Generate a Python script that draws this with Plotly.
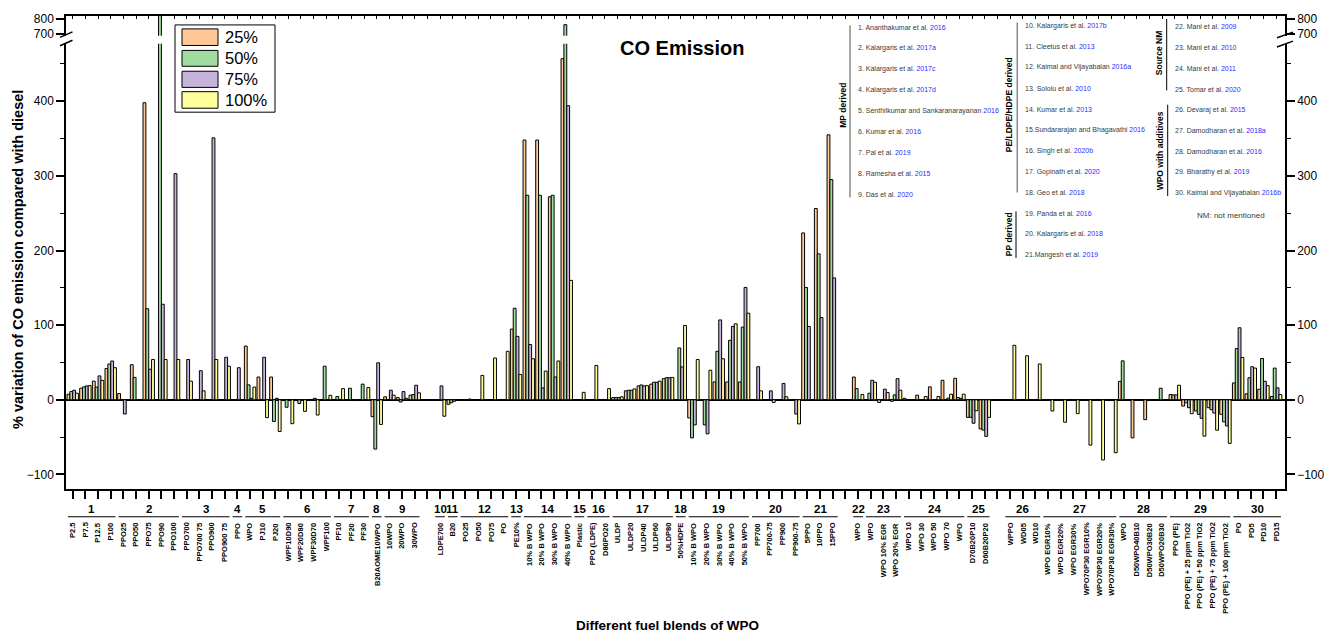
import plotly.graph_objects as go

# ---------------- data ----------------
categories = [
    "P2.5", "P7.5", "P12.5", "P100",
    "PPO25", "PPO50", "PPO75", "PPO90", "PPO100",
    "PPO700", "PPO700 75", "PPO900", "PPO900 75",
    "PPO",
    "WPO", "PJ10", "PJ20",
    "WPF10D90", "WPF20D80", "WPF30D70", "WPF100",
    "PF10", "PF20", "PF30",
    "B20AOME10WPO",
    "10WPO", "20WPO", "30WPO",
    "",
    "LDPE700",
    "B20",
    "PO25", "PO50", "PO75", "PO",
    "PE10%",
    "10% B WPO", "20% B WPO", "30% B WPO", "40% B WPO",
    "Plastic",
    "PPO (LDPE)", "D80PO20",
    "ULDP", "ULDP20", "ULDP40", "ULDP60", "ULDP80",
    "50%HDPE",
    "10% B WPO", "20% B WPO", "30% B WPO", "40% B WPO", "50% B WPO",
    "PP700", "PP700-75", "PP900", "PP900-75",
    "5PPO", "10PPO", "15PPO",
    "",
    "WPO",
    "WPO", "WPO 10% EGR", "WPO 20% EGR",
    "WPO 10", "WPO 30", "WPO 50", "WPO 70", "WPO",
    "D70B20P10", "D60B20P20",
    "",
    "WPPO", "WD05", "WD10",
    "WPO EGR10%", "WPO EGR20%", "WPO EGR30%", "WPO70P30 EGR10%", "WPO70P30 EGR20%", "WPO70P30 EGR30%",
    "WPO", "D50WPO40B10", "D50WPO30B20", "D50WPO20B30",
    "PPO (PE)", "PPO (PE) + 25 ppm TiO2", "PPO (PE) + 50 ppm TiO2", "PPO (PE) + 75 ppm TiO2", "PPO (PE) + 100 ppm TiO2",
    "PO", "PD5", "PD10", "PD15",
]

groups = (
    [1] * 4 + [2] * 5 + [3] * 4 + [4] + [5] * 3 + [6] * 4 + [7] * 3 + [8] + [9] * 3 + [None]
    + [10] + [11] + [12] * 4 + [13] + [14] * 4 + [15] + [16] * 2 + [17] * 5 + [18] + [19] * 5
    + [20] * 4 + [21] * 3 + [None] + [22] + [23] * 3 + [24] * 5 + [25] * 2 + [None]
    + [26] * 3 + [27] * 6 + [28] * 4 + [29] * 5 + [30] * 4
)

N = None
co_25 = [7.5, 15.5, 25, 42, 8.4, 47, 398, N, N, N, N, N, N, N, 72, 30.5, 30.5, N, N, N, N, N, N, N, -22.6,
         4, 3, 6.2, N, N, -6, N, N, N, N, 94.7, 348, 348, 272, 457, N, N, N, 3, 12, 18.6, 21, 28.3, N,
         -24.3, N, 23.9, 23.9, 23.9, N, N, N, N, 223.6, 256.3, 355, N, 30.5, N, -3.5, -2, 2, 6.2, 17.3, 26.1,
         28.8, -23.5, -39, N, N, N, N, N, N, N, N, N, N, 24.7, -51, -26.6, N, 7, -8.4, -15, -10.6, -19.5,
         22.6, 8, 14.2, 4.4]
co_50 = [11, 17.3, 17, 48, N, 30, 122, 830, N, N, N, N, N, N, 20, N, -29, -10, -5, N, 45, 4.4, 15.5, 21, -66,
         N, -3, 7, N, N, -4, N, N, N, N, 122.6, 274, 274, 274, 762, N, N, N, 3, 12.8, 19.9, 23.5, 29.6, 69.5,
         -51, -33.6, 65, 79.7, 97.4, N, N, N, N, 150.5, 195.6, 295, N, 15, 8.8, N, 6.6, N, N, N, N,
         3, -23.5, -40.6, N, N, N, N, N, N, N, N, N, N, 52.2, N, -1, 15.5, 6.6, -4, -19.5, -13.3, -29.6,
         68.6, 29.6, 55.4, 42.5]
co_75 = [12.8, 18.6, 32, 52, -19, N, 41, 128, 303, 54, 39, 351, 57, 43, 2, 57, 2, N, N, 2, N, N, N, N, 49.6,
         12.8, 11, 19.5, N, 18.6, -2, N, N, N, N, 85, 74, 16, 30.5, 394, N, N, N, 3, 12.8, 18.6, 23.5, 29.6, 44,
         -33.6, -45.6, 107, 98.3, 150.5, 44.3, 12, 22, -19, 98.3, 110.2, 163.3, N, N, 26.1, 14.2, 28.3, N, N, N, 2.2,
         2, -31.4, -49, N, N, N, N, N, N, N, N, N, N, N, N, N, N, 6.6, -10.6, -24.8, -17.7, -35,
         96.5, 44.3, 24.8, 16]
co_100 = [8.8, 19, 26, 43, N, N, 54, 54, 54, 25, 12, 54, 45, N, 17, -24, -42.5, -32, -15.5, -20.4, 6, 15, -1, 16.4, -33,
          6.2, 2, 9.3, N, -22, N, 1, 32.7, 56, 65, 34, 55, 38.5, 52, 160, 10, 46, 15, 4, 14.6, 19, 25, 30, 99.6,
          54, 39.6, 55, 101.8, 116, 12, -3.5, 4, -32.3, N, N, N, N, 7, 23.5, 9.7, 12.8, N, 4.4, 4.4, 7.5,
          7.5, -14.6, -23.5, N, 73, 59, 48, -15, -30, -18.6, -60.7, -80.6, -70.9, N, N, N, N, 19.5, -18.6, -48.7, -40.7, -58.4,
          56.7, 42.5, 19, 7]

series_names = ["25%", "50%", "75%", "100%"]
series_values = [co_25, co_50, co_75, co_100]
series_colors = ["#FFC896", "#A0DCA0", "#C6B4DC", "#FFFF9C"]

lower_ticks = [-100, 0, 100, 200, 300, 400]
lower_minor = [-50, 50, 150, 250, 350, 450]
upper_ticks = [700, 800]

refs_mp = ["1. Ananthakumar et al.", "2. Kalargaris et al.", "3. Kalargaris et al.", "4. Kalargaris et al.",
           "5. Senthilkumar and Sankaranarayanan", "6. Kumar et al.", "7. Pal et al.", "8. Ramesha et al.",
           "9. Das et al."]
years_mp = ["2016", "2017a", "2017c", "2017d", "2016", "2016", "2019", "2015", "2020"]
refs_pe = ["10. Kalargaris et al.", "11. Cleetus et al.", "12. Kaimal and Vijayabalan", "13. Soloiu et al.",
           "14. Kumar et al.", "15.Sundararajan and Bhagavathi", "16. Singh et al.", "17. Gopinath et al.",
           "18. Geo et al.", "19. Panda et al.", "20. Kalargaris et al.", "21.Mangesh et al."]
years_pe = ["2017b", "2013", "2016a", "2010", "2013", "2016", "2020b", "2020", "2018", "2016", "2018", "2019"]
refs_nm = ["22. Mani et al.", "23. Mani et al.", "24. Mani et al.", "25. Tomar et al.", "26. Devaraj et al.",
           "27. Damodharan et al.", "28. Damodharan et al.", "29. Bharathy et al.", "30. Kaimal and Vijayabalan"]
years_nm = ["2009", "2010", "2011", "2020", "2015", "2018a", "2016", "2019", "2016b"]

# ---------------- layout geometry (pixels) ----------------
W, H = 1337, 635
PL, PR, PT, PB = 66, 1285, 12, 489
PW, PH = PR - PL, PB - PT
FONT = "Liberation Sans, Arial, Helvetica, sans-serif"


def px(xp):
    return (xp - PL) / PW


def py(yp):
    return (PB - yp) / PH


lower_dom = [0, py(40)]
upper_dom = [py(32), 1]

xs = list(range(len(categories)))

fig = go.Figure()
for name, vals, col in zip(series_names, series_values, series_colors):
    for xa, ya in (("x", "y"), ("x2", "y2")):
        fig.add_trace(go.Bar(
            x=xs, y=vals, name=name, xaxis=xa, yaxis=ya, showlegend=False,
            marker=dict(color=col, line=dict(color="black", width=1)),
        ))
# empty traces so that the right-hand (mirrored) axes get drawn
fig.add_trace(go.Scatter(x=[], y=[], xaxis="x", yaxis="y3", showlegend=False, hoverinfo="skip"))
fig.add_trace(go.Scatter(x=[], y=[], xaxis="x2", yaxis="y4", showlegend=False, hoverinfo="skip"))

xrange_ = [-0.53, 95.7]
axis_line = dict(showline=True, linecolor="black", linewidth=1.5, showgrid=False)
minor_ax = dict(tickvals=lower_minor, ticks="outside", ticklen=4, tickwidth=1, tickcolor="black")
fig.update_layout(
    width=W, height=H,
    margin=dict(l=PL, r=W - PR, t=PT, b=H - PB),
    barmode="group", bargap=0.1, bargroupgap=0,
    plot_bgcolor="white", paper_bgcolor="white",
    font=dict(family=FONT, color="black", size=12),
    xaxis=dict(domain=[0, 1], anchor="y", range=xrange_, tickvals=xs, showticklabels=False,
               ticks="outside", ticklen=8, tickwidth=1.5, tickcolor="black", zeroline=False, **axis_line),
    xaxis2=dict(domain=[0, 1], anchor="y2", side="top", range=xrange_, tickvals=xs, showticklabels=False,
                ticks="inside", ticklen=3, tickwidth=1, tickcolor="black", zeroline=False, **axis_line),
    yaxis=dict(domain=lower_dom, anchor="x", range=[-119.5, 477], tickvals=lower_ticks,
               ticks="outside", ticklen=8, tickwidth=1.5, tickcolor="black", minor=minor_ax,
               zeroline=True, zerolinecolor="black", zerolinewidth=2, tickfont=dict(size=12), **axis_line),
    yaxis3=dict(overlaying="y", anchor="x", side="right", range=[-119.5, 477], tickvals=lower_ticks,
                ticks="outside", ticklen=8, tickwidth=1.5, tickcolor="black", minor=minor_ax,
                zeroline=False, tickfont=dict(size=12), **axis_line),
    yaxis2=dict(domain=upper_dom, anchor="x2", range=[687, 820], tickvals=upper_ticks,
                ticks="outside", ticklen=8, tickwidth=1.5, tickcolor="black", zeroline=False,
                tickfont=dict(size=12), **axis_line),
    yaxis4=dict(overlaying="y2", anchor="x2", side="right", range=[687, 820], tickvals=upper_ticks,
                ticks="outside", ticklen=8, tickwidth=1.5, tickcolor="black", zeroline=False,
                tickfont=dict(size=12), **axis_line),
)

annotations = []
shapes = []

# category labels
for i, lab in enumerate(categories):
    if lab:
        annotations.append(dict(x=i, y=py(521), xref="x", yref="paper", text="<b>%s</b>" % lab,
                                textangle=-90, xanchor="center", yanchor="top", showarrow=False,
                                font=dict(size=7.5, family=FONT)))

# group numbers + underlines
seen = []
for g in groups:
    if g is not None and g not in seen:
        seen.append(g)
for g in seen:
    idx = [i for i, gg in enumerate(groups) if gg == g]
    a, b = idx[0], idx[-1]
    annotations.append(dict(x=(a + b) / 2, y=py(509), xref="x", yref="paper", text="<b>%d</b>" % g,
                            xanchor="center", yanchor="middle", showarrow=False, font=dict(size=11.5)))
    shapes.append(dict(type="line", xref="x", yref="paper", x0=a - 0.38, x1=b + 0.38,
                       y0=py(517), y1=py(517), line=dict(color="black", width=1)))

# titles
annotations.append(dict(x=px(682), y=py(44), xref="paper", yref="paper", text="<b>CO Emission</b>",
                        showarrow=False, font=dict(size=20), xanchor="center", yanchor="middle"))
annotations.append(dict(x=px(667), y=py(627), xref="paper", yref="paper", text="<b>Different fuel blends of WPO</b>",
                        showarrow=False, font=dict(size=13.5), xanchor="center", yanchor="middle"))
annotations.append(dict(x=px(18), y=py(258), xref="paper", yref="paper",
                        text="<b>% variation of CO emission compared with diesel</b>", textangle=-90,
                        showarrow=False, font=dict(size=14.5), xanchor="center", yanchor="middle"))

# legend (drawn)
shapes.append(dict(type="rect", xref="paper", yref="paper", x0=px(175), x1=px(275), y0=py(21), y1=py(109),
                   line=dict(color="black", width=1), fillcolor="white", layer="above"))
leg_rows = [(25, 41.7), (46.7, 62.7), (67.7, 84), (88.3, 105)]
for (y0, y1), name, col in zip(leg_rows, series_names, series_colors):
    shapes.append(dict(type="rect", xref="paper", yref="paper", x0=px(182), x1=px(218), y0=py(y1), y1=py(y0),
                       line=dict(color="black", width=1), fillcolor=col, layer="above"))
    annotations.append(dict(x=px(223), y=py((y0 + y1) / 2), xref="paper", yref="paper", text=name,
                            showarrow=False, font=dict(size=16.5), xanchor="left", yanchor="middle"))

# reference list
BLUE = "#2B2BFF"
GREY = "#3A3A3A"


def ref_block(names, years, x0, ystart, step):
    for k, (nm, yr) in enumerate(zip(names, years)):
        annotations.append(dict(x=px(x0), y=py(ystart + k * step), xref="paper", yref="paper",
                                text='%s <span style="color:%s">%s</span>' % (nm, BLUE, yr),
                                showarrow=False, xanchor="left", yanchor="middle",
                                font=dict(size=7, color=GREY)))


ref_block(refs_mp, years_mp, 856, 23.3, 21.1)
ref_block(refs_pe, years_pe, 1022.5, 21.7, 21.06)
ref_block(refs_nm, years_nm, 1173, 22.7, 21.0)


def vline(xp, y0, y1, color, width):
    shapes.append(dict(type="line", xref="paper", yref="paper", x0=px(xp), x1=px(xp), y0=py(y0), y1=py(y1),
                       line=dict(color=color, width=width)))


def vlabel(text, xp, yp):
    annotations.append(dict(x=px(xp), y=py(yp), xref="paper", yref="paper", text="<b>%s</b>" % text,
                            textangle=-90, showarrow=False, xanchor="center", yanchor="middle",
                            font=dict(size=8.5)))


vline(850, 21.5, 195, "#888888", 1.5)
vlabel("MP derived", 843.5, 102)
vline(1017.3, 18.5, 190, "#888888", 1.5)
vlabel("PE/LDPE/HDPE derived", 1009, 102)
vline(1016, 209, 256, "black", 1)
vlabel("PP derived", 1009, 232)
vline(1166.7, 15, 87, "black", 1)
vlabel("Source NM", 1158.5, 50)
vline(1167.7, 101.5, 193.5, "black", 1)
vlabel("WPO with additives", 1159.5, 148)
annotations.append(dict(x=px(1231), y=py(213.3), xref="paper", yref="paper", text="NM: not mentioned",
                        showarrow=False, xanchor="center", yanchor="middle", font=dict(size=8, color=GREY)))

# axis break marks
for (x0, y0, x1, y1) in [(60, 33.5, 72.5, 28), (60, 42, 72.5, 36.5),
                         (1277, 34, 1293, 28.3), (1277, 43.3, 1293, 37.3)]:
    shapes.append(dict(type="line", xref="paper", yref="paper", x0=px(x0), y0=py(y0), x1=px(x1), y1=py(y1),
                       line=dict(color="black", width=1.5)))

fig.update_layout(annotations=annotations, shapes=shapes)

fig.write_html("out.html", config={"displayModeBar": False},
               post_script="document.body.style.margin='0';")
